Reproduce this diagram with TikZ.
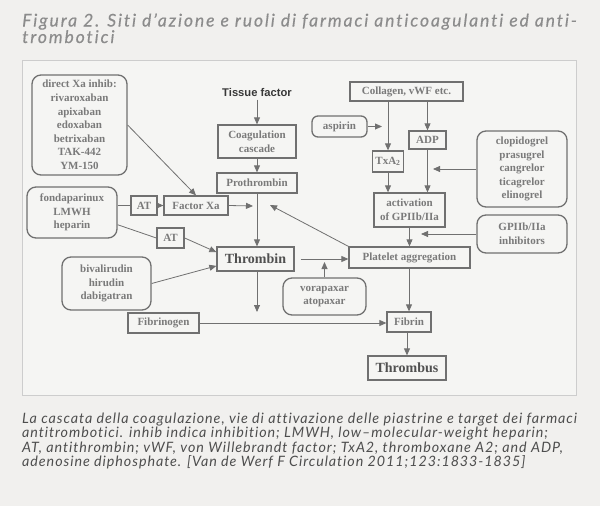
\documentclass[tikz,border=0pt]{standalone}
\usepackage{fontspec}
\setmainfont{Liberation Serif}
\newfontfamily\headfont[LetterSpace=10.9,Ligatures={NoCommon},FakeBold=0.4]{Lato}
\newfontfamily\capfont[LetterSpace=6.6,Ligatures={NoCommon}]{Lato}
\newfontfamily\tissuefont{Liberation Sans}
\usetikzlibrary{arrows.meta,positioning,calc}
\definecolor{pagegray}{RGB}{241,240,238}
\definecolor{panelfill}{RGB}{245,245,243}
\definecolor{panelline}{RGB}{205,205,205}
\definecolor{boxline}{RGB}{112,112,112}
\definecolor{boxtext}{RGB}{122,122,122}
\definecolor{strongtext}{RGB}{80,80,80}
\definecolor{titlegray}{RGB}{140,140,140}
\definecolor{captiongray}{RGB}{78,78,78}

\begin{document}
\begin{tikzpicture}[x=1pt,y=-1pt,
    box/.style={draw=boxline,line width=1.3pt,fill=panelfill,text=boxtext,align=center,
      inner sep=1pt,font=\bfseries\fontsize{11}{13.6}\selectfont},
    rbox/.style={box,rounded corners=9pt},
    bigbox/.style={box,text=strongtext,font=\bfseries\fontsize{14}{16}\selectfont},
    link/.style={draw=boxline,line width=0.8pt},
    arr/.style={link,-{Triangle[length=7pt,width=6pt]}}]
  \useasboundingbox (0,0) rectangle (600,506);
  \fill[pagegray] (0,0) rectangle (600,506);

  \node[anchor=base west,inner sep=0pt,text=titlegray,align=left,font=\headfont\itshape\fontsize{17.5}{16.5}\selectfont]
    (title) at (22,43) {Figura 2. Siti d’azione e ruoli di farmaci anticoagulanti ed anti-\\trombotici};

  \draw[panelline,line width=0.8pt,fill=panelfill] (22,60) rectangle (576,395);

  \node[rbox,minimum width=95,minimum height=100] (directxa) at (79.5,125)
    {direct Xa inhib:\\rivaroxaban\\apixaban\\edoxaban\\betrixaban\\TAK-442\\YM-150};
  \node[text=strongtext!70!black,font=\tissuefont\bfseries\fontsize{11.2}{13}\selectfont] (tissue) at (257,92) {Tissue factor};
  \node[box,minimum width=78,minimum height=33] (coag) at (257,141.5) {Coagulation\\cascade};
  \node[box,minimum width=80,minimum height=20] (prothrombin) at (257,183) {Prothrombin};
  \node[rbox,minimum width=90,minimum height=51] (fonda) at (72,212.5) {fondaparinux\\LMWH\\heparin};
  \node[box,minimum width=26,minimum height=19] (at1) at (144,205.5) {AT};
  \node[box,minimum width=64,minimum height=19] (factorxa) at (196,205.5) {Factor Xa};
  \node[box,minimum width=27,minimum height=20] (at2) at (170.5,238) {AT};
  \node[bigbox,minimum width=77,minimum height=24] (thrombin) at (255.5,259) {Thrombin};
  \node[rbox,minimum width=89,minimum height=53] (biva) at (106.5,283.5) {bivalirudin\\hirudin\\dabigatran};
  \node[box,minimum width=71,minimum height=20] (fibrinogen) at (163.5,323) {Fibrinogen};
  \node[box,minimum width=121,minimum height=21] (platelet) at (409.5,257.5) {Platelet aggregation};
  \node[rbox,minimum width=83,minimum height=37] (vora) at (324.5,296.5) {vorapaxar\\atopaxar};
  \node[box,minimum width=44,minimum height=20] (fibrin) at (409,322) {Fibrin};
  \node[bigbox,minimum width=78,minimum height=24] (thrombus) at (407,368) {Thrombus};

  \node[box,minimum width=113,minimum height=19] (collagen) at (406.5,91.5) {Collagen, vWF etc.};
  \node[rbox,minimum width=55,minimum height=21,rounded corners=6pt] (aspirin) at (339.5,126.5) {aspirin};
  \node[box,minimum width=37,minimum height=18] (adp) at (427.5,140) {ADP};
  \node[box,minimum width=31,minimum height=21] (txa) at (388,161.5) {TxA\textsubscript{2}};
  \node[box,minimum width=71,minimum height=34] (activation) at (409.5,210) {activation\\of GPIIb/IIa};
  \node[rbox,minimum width=90,minimum height=76] (clopi) at (522,169) {clopidogrel\\prasugrel\\cangrelor\\ticagrelor\\elinogrel};
  \node[rbox,minimum width=90,minimum height=38] (gpinhib) at (522,234) {GPIIb/IIa\\inhibitors};

  \coordinate (xatip) at (253,206);
  \coordinate (pltip) at (270,205);
  \coordinate (vtip) at (324.5,262);
  \coordinate (ttip) at (257,312);
  \coordinate (astip) at (382,126.5);
  \coordinate (cltip) at (433,169);
  \coordinate (gptip) at (421,234);

  \draw[arr] (tissue.south) -- (coag.north);
  \draw[arr] (coag) -- (prothrombin);
  \draw[arr] (prothrombin.south) -- (prothrombin.south |- thrombin.north);
  \draw[arr] (directxa.east) -- (factorxa.north);
  \draw[link] (fonda.east |- at1) -- (at1.west);
  \draw[arr] (at1) -- (factorxa);
  \draw[link] (fonda.-15) -- (at2.west);
  \draw[arr] (at2.east) -- (thrombin.170);
  \draw[arr] (biva.east) -- (thrombin.190);
  \draw[arr] (factorxa.east) -- (xatip);
  \draw[arr] (platelet.north west) -- (pltip);
  \draw[arr] ($(thrombin.east)+(6,0)$) -- (thrombin.east -| platelet.west);
  \draw[arr] (vora.north) -- (vtip);
  \draw[arr] (thrombin.south -| ttip) -- (ttip);
  \draw[arr] (fibrinogen.east) -- (fibrinogen.east -| fibrin.west);
  \draw[arr] (platelet.south -| fibrin) -- (fibrin.north);
  \draw[arr] (fibrin.south -| thrombus.north) -- (thrombus.north);

  \draw[arr] (aspirin.east) -- (astip);
  \draw[arr] (collagen.south -| txa) -- (txa.north);
  \draw[arr] (collagen.south -| adp) -- (adp.north);
  \draw[arr] (txa.south) -- (txa.south |- activation.north);
  \draw[arr] (adp.south) -- (adp.south |- activation.north);
  \draw[arr] (activation.south -| platelet) -- (platelet.north);
  \draw[arr] (clopi.west) -- (cltip);
  \draw[arr] (gpinhib.west) -- (gptip);

  \node[anchor=base west,inner sep=0pt,text=captiongray,align=left,font=\capfont\itshape\fontsize{14.3}{14.5}\selectfont]
    (caption) at (22,466.5) {La cascata della coagulazione, vie di attivazione delle piastrine e target dei farmaci\\
    antitrombotici. inhib indica inhibition; LMWH, low–molecular-weight heparin;\\
    AT, antithrombin; vWF, von Willebrandt factor; TxA2, thromboxane A2; and ADP,\\
    adenosine diphosphate. [Van de Werf F Circulation 2011;123:1833-1835]};
\end{tikzpicture}
\end{document}
